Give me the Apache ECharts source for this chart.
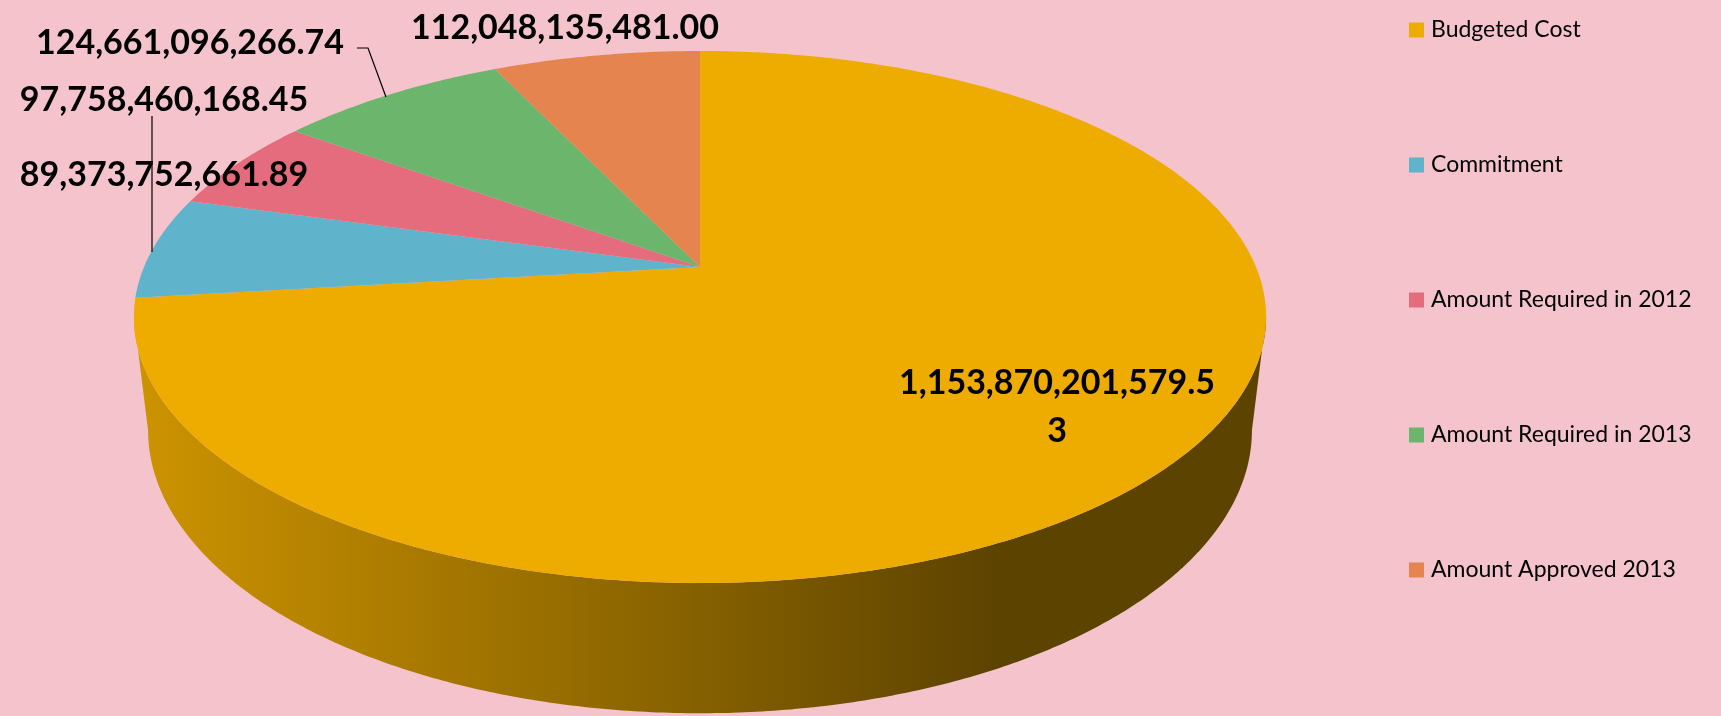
<!DOCTYPE html>
<html>
<head>
  <meta charset="UTF-8">
  <title>Budget pie</title>
  <script src="https://cdn.jsdelivr.net/npm/echarts@6/dist/echarts.min.js"></script>
  <style>
    html, body {margin: 0; padding: 0; background: #f4c3cb;}
    #main {width: 1721px; height: 716px;}
  </style>
</head>
<body>
<div id="main"></div>
<script type="text/javascript">
  // data
  var categories = ['Budgeted Cost', 'Commitment', 'Amount Required in 2012', 'Amount Required in 2013', 'Amount Approved 2013'];
  var values = [1153870201579.53, 97758460168.45, 89373752661.89, 124661096266.74, 112048135481.00];
  var colors = ['#eeac00', '#5fb3cb', '#e46c7c', '#6bb56c', '#e5844f'];

  // layout of the value labels (Excel placed them by hand)
  var labelPos = [[1057, 383], [164, 100], [164, 175], [190, 43], [565, 28]];
  var leaders = [null, [[152, 116], [152, 252]], null, [[357, 48], [368, 48], [386, 97]], null];

  // fake 3d: a tilted disc seen in perspective
  var cx = 700, cy = 267, rx = 556, ry = 256.6, persp = 0.188;
  var bottomDrop = 110, bottomShrink = 0.975, bottomStretch = 1.064;

  var total = values.reduce(function (a, b) { return a + b; }, 0);
  var starts = [];
  var acc = -90;
  values.forEach(function (v) {
    starts.push(acc);
    acc += v / total * 360;
  });

  function project(deg, shrink, drop, stretch) {
    var t = deg * Math.PI / 180;
    var s = 1 / (1 - persp * Math.sin(t));
    return [cx + rx * shrink * Math.cos(t) * s, cy + drop + ry * stretch * Math.sin(t) * s];
  }

  function shade(hex, k) {
    var n = parseInt(hex.slice(1), 16);
    var r = Math.round(((n >> 16) & 255) * k), g = Math.round(((n >> 8) & 255) * k), b = Math.round((n & 255) * k);
    return 'rgb(' + r + ',' + g + ',' + b + ')';
  }

  function fmt(v) {
    return v.toLocaleString('en-US', {minimumFractionDigits: 2, maximumFractionDigits: 2});
  }

  function makeRender(idx) {
    return function (params, api) {
      var a0 = starts[idx];
      var a1 = a0 + values[idx] / total * 360;
      var children = [];

      // visible front wall between the two silhouette points
      var edge = Math.asin(persp) * 180 / Math.PI;
      var f0 = Math.max(a0, edge), f1 = Math.min(a1, 180 - edge);
      if (f1 > f0) {
        var wall = [];
        var d;
        for (d = f0; d <= f1; d += 0.5) wall.push(project(d, 1, 0, 1));
        wall.push(project(f1, 1, 0, 1));
        for (d = f1; d >= f0; d -= 0.5) wall.push(project(d, bottomShrink, bottomDrop, bottomStretch));
        wall.push(project(f0, bottomShrink, bottomDrop, bottomStretch));
        children.push({
          type: 'polygon',
          shape: {points: wall},
          style: {
            fill: new echarts.graphic.LinearGradient(cx - rx * 1.02, 0, cx + rx * 1.02, 0, [
              {offset: 0, color: shade(colors[idx], 0.86)},
              {offset: 0.5, color: shade(colors[idx], 0.56)},
              {offset: 0.76, color: shade(colors[idx], 0.39)},
              {offset: 1, color: shade(colors[idx], 0.39)}
            ], true)
          }
        });
      }

      // top face
      var pts = [[cx, cy]];
      for (var a = a0; a < a1; a += 0.5) pts.push(project(a, 1, 0, 1));
      pts.push(project(a1, 1, 0, 1));
      children.push({type: 'polygon', shape: {points: pts}, style: {fill: colors[idx]}});

      if (leaders[idx]) {
        children.push({
          type: 'polyline',
          shape: {points: leaders[idx]},
          style: {stroke: '#000', lineWidth: 1.2, fill: null}
        });
      }

      // value label, the big one wraps like in Excel
      var txt = fmt(values[idx]);
      if (idx === 0) txt = txt.slice(0, -1) + '\n' + txt.slice(-1);
      children.push({
        type: 'text',
        x: labelPos[idx][0],
        y: idx === 0 ? labelPos[idx][1] - 24 : labelPos[idx][1],
        style: {
          text: txt,
          fill: '#000',
          font: 'bold 34px Lato',
          lineHeight: 48,
          align: 'center',
          verticalAlign: idx === 0 ? 'top' : 'middle'
        }
      });
      return {type: 'group', children: children};
    };
  }

  var myChart = echarts.init(document.getElementById('main'));

  var series = categories.map(function (name, i) {
    return {
      name: name,
      type: 'custom',
      coordinateSystem: 'none',
      data: [[i]],
      itemStyle: {color: colors[i]},
      renderItem: makeRender(i),
      silent: true
    };
  });

  var option = {
    backgroundColor: '#f4c3cb',
    animation: false,
    legend: {
      orient: 'vertical',
      left: 1409,
      top: 15,
      padding: 0,
      itemWidth: 15,
      itemHeight: 15,
      itemGap: 105,
      icon: 'rect',
      selectedMode: false,
      textStyle: {fontFamily: 'Lato', fontSize: 23, color: '#000', lineHeight: 30, padding: [0, 0, 0, 2]},
      data: categories
    },
    series: series
  };

  myChart.setOption(option);
</script>
</body>
</html>
